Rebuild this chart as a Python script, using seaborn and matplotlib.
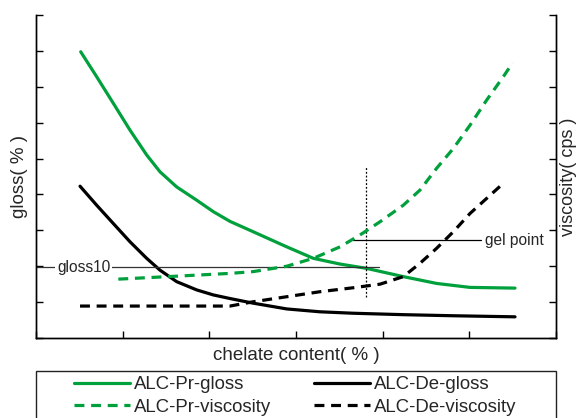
import numpy as np
import pandas as pd
import matplotlib
matplotlib.use("Agg")
import matplotlib.pyplot as plt
import matplotlib.patches as mpatches
import seaborn as sns

# --- data (arbitrary units) ---
pr_gloss_x = [0.516, 0.70, 0.892, 1.085, 1.277, 1.431, 1.623, 1.854, 2.046, 2.238,
              2.507, 2.893, 3.2, 3.508, 3.815, 4.238, 4.623, 5.008, 5.527]
pr_gloss_y = [7.975, 7.28, 6.54, 5.79, 5.10, 4.63, 4.21, 3.84, 3.52, 3.25,
              2.96, 2.54, 2.22, 2.06, 1.94, 1.71, 1.52, 1.41, 1.39]

de_gloss_x = [0.508, 0.70, 0.892, 1.085, 1.277, 1.431, 1.623, 1.854, 2.046, 2.238,
              2.507, 2.893, 3.277, 3.66, 4.238, 4.815, 5.527]
de_gloss_y = [4.23, 3.70, 3.19, 2.68, 2.22, 1.89, 1.57, 1.34, 1.20, 1.10,
              0.97, 0.81, 0.73, 0.69, 0.65, 0.62, 0.59]

pr_visc_x = [0.95, 1.6, 2.238, 2.507, 2.893, 3.2, 3.508, 3.738, 3.97, 4.238,
             4.43, 4.623, 4.815, 5.008, 5.20, 5.392, 5.50]
pr_visc_y = [1.64, 1.72, 1.80, 1.85, 2.00, 2.22, 2.54, 2.87, 3.24, 3.70,
             4.12, 4.73, 5.28, 5.93, 6.63, 7.28, 7.67]

de_visc_x = [0.508, 2.238, 2.507, 2.893, 3.277, 3.66, 3.97, 4.238, 4.43, 4.623,
             4.815, 5.008, 5.20, 5.392]
de_visc_y = [0.89, 0.89, 1.01, 1.15, 1.29, 1.40, 1.50, 1.71, 2.08, 2.50,
             2.96, 3.47, 3.89, 4.31]

labels = ["ALC-Pr-gloss", "ALC-De-gloss", "ALC-Pr-viscosity", "ALC-De-viscosity"]
gloss10_y = 1.97
gloss10_end = 3.96
gel_y = 2.73
gel_x0, gel_x1 = 3.66, 5.14
gel_vx = 3.81
gel_vy0, gel_vy1 = 1.15, 4.79

GREEN = "#00a03c"

sns.set_theme(style="white")
plt.rcParams['font.family'] = ['Liberation Sans', 'DejaVu Sans']

fig = plt.figure(figsize=(5.81, 4.18), dpi=100)
ax = fig.add_axes([36/581, 80/418, 520/581, 323/418])
ax2 = ax.twinx()

lw = 2.3
dash = (3.1, 2.1)
sns.lineplot(x=pr_gloss_x, y=pr_gloss_y, ax=ax, color=GREEN, lw=lw, label=labels[0], legend=False)
sns.lineplot(x=de_gloss_x, y=de_gloss_y, ax=ax, color="black", lw=lw, label=labels[1], legend=False)
sns.lineplot(x=pr_visc_x, y=pr_visc_y, ax=ax2, color=GREEN, lw=lw, label=labels[2], legend=False)
sns.lineplot(x=de_visc_x, y=de_visc_y, ax=ax2, color="black", lw=lw, label=labels[3], legend=False)
for l in ax2.get_lines():
    l.set_dashes(dash)

for a in (ax, ax2):
    a.set_xlim(0, 6)
    a.set_ylim(0, 9)
    a.set_yticks(range(0, 10))
    a.set_xticks(range(0, 7))
    a.set_yticklabels([])
    a.set_xticklabels([])
    for s in a.spines.values():
        s.set_color("black")
        s.set_linewidth(1.0)
    a.spines["top"].set_visible(False)
ax.tick_params(axis="both", direction="in", length=5, width=1, color="black", left=True, bottom=True)
ax2.tick_params(axis="y", direction="in", length=5, width=1, color="black", right=True)

# annotations
ax.plot([0, gloss10_end], [gloss10_y, gloss10_y], color="#333333", lw=0.9)
ax.text(0.242, gloss10_y, "gloss10", fontsize=11.2, va="center", ha="left",
        bbox=dict(facecolor="white", edgecolor="none", pad=1.5))
ax.plot([gel_x0, gel_x1], [gel_y, gel_y], color="black", lw=0.9)
ax.text(gel_x1 + 0.04, gel_y, "gel point", fontsize=11.2, va="center", ha="left")
ax.plot([gel_vx, gel_vx], [gel_vy0, gel_vy1], color="black", lw=0.9, ls=(0, (1.5, 1.5)))

ax.set_xlabel("chelate content( % )", fontsize=13.5)
ax.xaxis.set_label_coords(0.5, -0.027)
ax.xaxis.label.set_va("top")
ax.set_ylabel("gloss( % )", fontsize=13.5)
ax.yaxis.set_label_coords(-0.0155, 0.5)
ax2.set_ylabel("viscosity( cps )", fontsize=13)
ax2.yaxis.set_label_coords(1.0085, 0.5)

handles = ax.get_lines()[:2] + ax2.get_lines()[:2]
order = [handles[0], handles[2], handles[1], handles[3]]
olabels = [labels[0], labels[2], labels[1], labels[3]]
leg = fig.legend(order, olabels, ncol=2, loc="center",
                 bbox_to_anchor=(295.5/581, 22/418), fontsize=13.4,
                 frameon=False,
                 handlelength=3.0, handletextpad=0.22, columnspacing=2.3,
                 borderpad=0.0, labelspacing=0.32, borderaxespad=0)
frame = mpatches.Rectangle((36/581, -12/418), 520/581, 59/418, transform=fig.transFigure,
                           fill=False, edgecolor="#222222", lw=1.0, clip_on=False)
fig.add_artist(frame)

fig.savefig("out.png", dpi=100)
